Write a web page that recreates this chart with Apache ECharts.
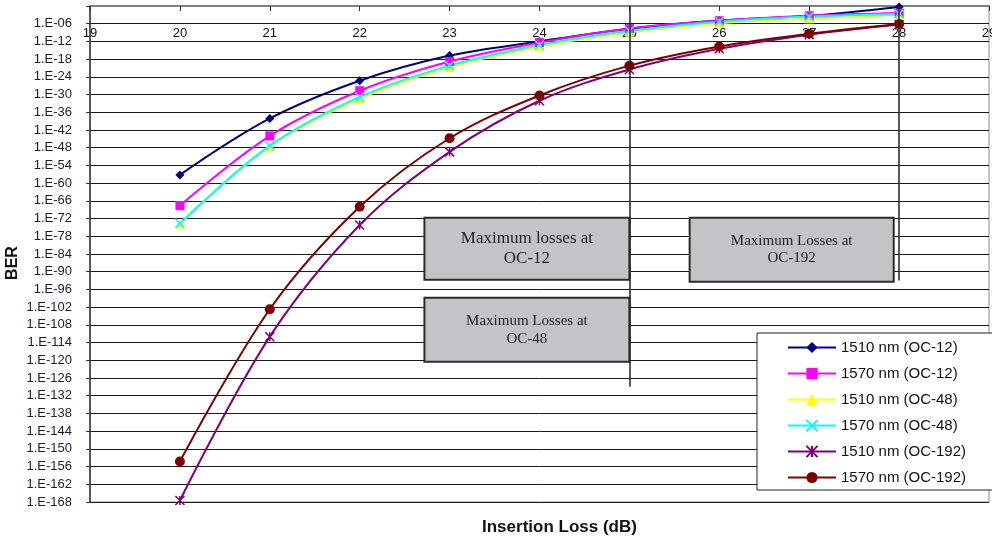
<!DOCTYPE html>
<html>
<head>
<meta charset="utf-8">
<script src="https://cdn.jsdelivr.net/npm/echarts@6/dist/echarts.min.js"></script>
<style>html,body{margin:0;padding:0;background:#fff}#c{width:992px;height:542px}</style>
</head>
<body>
<div id="c"></div>
<script>
// Insertion loss (dB) and log10(BER) values
const insertionLoss = [20, 21, 22, 23, 24, 25, 26, 27, 28];
const log10BER_1510_OC12  = [-57.2, -38.1, -25.3, -16.8, -12.0, -7.7, -4.9, -3.3, -0.3];
const log10BER_1570_OC12  = [-67.6, -44.0, -28.7, -18.8, -12.4, -7.6, -5.0, -3.3, -2.4];
const log10BER_1510_OC48  = [-73.8, -47.6, -31.4, -20.7, -13.7, -8.9, -5.8, -4.3, -3.0];
const log10BER_1570_OC48  = [-73.6, -47.3, -30.8, -20.2, -13.2, -8.4, -5.3, -3.6, -2.6];
const log10BER_1510_OC192 = [-167.5, -112.0, -74.2, -49.4, -32.1, -21.5, -14.5, -9.7, -6.3];
const log10BER_1570_OC192 = [-154.3, -102.7, -68.0, -44.8, -30.3, -20.2, -13.7, -9.4, -6.1];
const seriesNames = ['1510 nm (OC-12)', '1570 nm (OC-12)', '1510 nm (OC-48)', '1570 nm (OC-48)', '1510 nm (OC-192)', '1570 nm (OC-192)'];
const boxTexts = ['Maximum losses at\nOC-12', 'Maximum Losses at\nOC-48', 'Maximum Losses at\nOC-192'];
// annotation boxes in data units: [x1, x2, y1, y2]
const boxRanges = [[22.72, 25.0, -71.7, -92.7], [22.72, 25.0, -98.8, -120.5], [25.67, 27.94, -71.7, -93.4]];
const limitLines = [[25, 0, -129], [28, 0, -93]];

const colors = ['#000080', '#FF00FF', '#FFFF00', '#00FFFF', '#800080', '#800000'];
const symbols = ['diamond', 'rect', 'triangle', 'path://M0,0L10,10M10,0L0,10', 'path://M0,0L10,10M10,0L0,10M5,0L5,10', 'circle'];
const symSizes = [9, 9, 9, 9, 9, 10];
const dataArr = [log10BER_1510_OC12, log10BER_1570_OC12, log10BER_1510_OC48, log10BER_1570_OC48, log10BER_1510_OC192, log10BER_1570_OC192];

const series = dataArr.map((d, i) => ({
  name: seriesNames[i],
  type: 'line',
  smooth: 0.35,
  data: insertionLoss.map((x, j) => [x, d[j]]),
  symbol: symbols[i],
  symbolSize: symSizes[i],
  showAllSymbol: true,
  lineStyle: { color: colors[i], width: 2 },
  itemStyle: { color: colors[i], borderColor: colors[i], borderWidth: (i === 3 || i === 4) ? 1.5 : 0 },
  emphasis: { disabled: true },
  z: 3
}));

const fontSizes = [17, 15, 15];
const lineHeights = [20, 18, 17];
series.push({
  name: 'annotations',
  type: 'line',
  data: [],
  z: 2,
  markArea: {
    silent: true,
    data: boxRanges.map((b, i) => [
      { xAxis: b[0], yAxis: b[2], name: boxTexts[i],
        itemStyle: { color: '#c5c3c8', borderColor: '#2a2a2a', borderWidth: 2 },
        label: { show: true, position: 'inside', color: '#222', fontFamily: 'Liberation Serif', fontSize: fontSizes[i], lineHeight: lineHeights[i], align: 'center' } },
      { xAxis: b[1], yAxis: b[3] }
    ])
  },
  markLine: {
    silent: true,
    symbol: 'none',
    label: { show: false },
    lineStyle: { color: '#222', width: 1.5, type: 'solid' },
    data: limitLines.map(l => [{ coord: [l[0], l[1]] }, { coord: [l[0], l[2]] }])
  }
});

const chart = echarts.init(document.getElementById('c'), null, { renderer: 'canvas' });
chart.setOption({
  animation: false,
  backgroundColor: '#fff',
  textStyle: { fontFamily: 'Liberation Sans' },
  grid: { left: 90, right: 3, top: 6, bottom: 40, show: true, borderColor: '#888', borderWidth: 1, containLabel: false, outerBoundsMode: 'none' },
  xAxis: {
    type: 'value', min: 19, max: 29, interval: 1, position: 'top',
    axisLine: { show: true, lineStyle: { color: '#808080', width: 2 } },
    axisTick: { show: true, inside: true, length: 5, lineStyle: { color: '#333' } },
    axisLabel: { inside: true, margin: 21, color: '#111', fontSize: 13, fontFamily: 'Liberation Sans', showMaxLabel: true, showMinLabel: true, hideOverlap: false },
    splitLine: { show: false }
  },
  yAxis: {
    type: 'value', min: -168, max: 0, interval: 6,
    axisLine: { show: true, lineStyle: { color: '#333', width: 1.5 } },
    axisTick: { show: true, length: 4, lineStyle: { color: '#333' } },
    axisLabel: {
      margin: 18, color: '#1a1a40', fontSize: 13, fontFamily: 'Liberation Sans',
      formatter: v => v === 0 ? '' : '1.E-' + String(-v).padStart(2, '0')
    },
    splitLine: { show: true, lineStyle: { color: '#1a1a1a', width: 1 } }
  },
  legend: {
    data: seriesNames,
    orient: 'vertical',
    left: 757, top: 333,
    padding: [7, 40, 5, 30],
    itemWidth: 48, itemHeight: 14, itemGap: 11,
    backgroundColor: '#fff', borderColor: '#222', borderWidth: 1, borderRadius: 0,
    textStyle: { fontSize: 15, color: '#111', fontFamily: 'Liberation Sans' },
    selectedMode: false,
    z: 10
  },
  graphic: [
    { type: 'text', left: 482, top: 519, style: { text: 'Insertion Loss (dB)', font: 'bold 17px "Liberation Sans"', fill: '#111' } },
    { type: 'text', x: 13, y: 263, rotation: Math.PI / 2, style: { text: 'BER', font: 'bold 16px "Liberation Sans"', fill: '#111', align: 'center', verticalAlign: 'middle' } }
  ],
  series: series
});
</script>
</body>
</html>
